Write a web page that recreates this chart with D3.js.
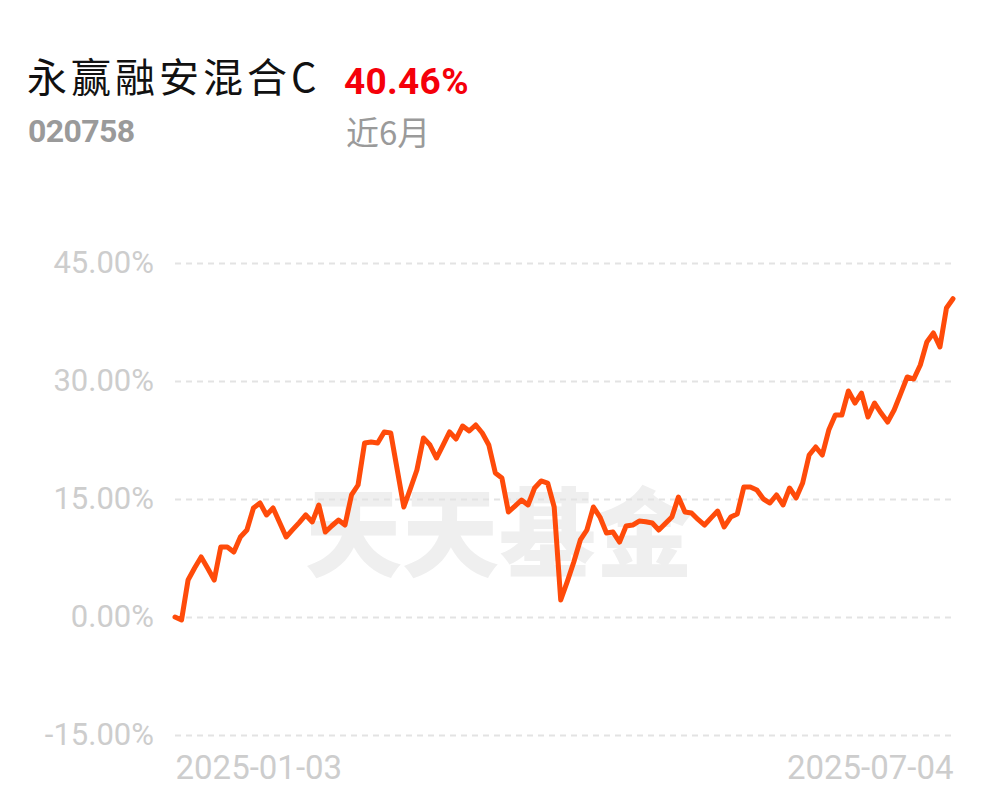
<!DOCTYPE html>
<html>
<head>
<meta charset="utf-8">
<script src="https://cdn.jsdelivr.net/npm/d3@7"></script>
<style>
  body { margin: 0; background: #fff; }
  svg { display: block; }
  .grid line { stroke: #e3e3e3; stroke-width: 2; stroke-dasharray: 6,5; }
  .axis text { font-family: Roboto, "Noto Sans", sans-serif; fill: #cdcdcd; }
</style>
</head>
<body>
<svg width="997" height="802"></svg>
<script>
// fund info
var fundName = "永赢融安混合C",
    fundCode = "020758",
    periodLabel = "近6月",
    periodReturn = "40.46%";

// x axis labels (first and last trading day)
var dateLabels = ["2025-01-03", "2025-07-04"];

// y ticks, percent
var yTicks = [-15, 0, 15, 30, 45];

// cumulative return (%) per trading day
var returns = [
  0.00, -0.38, 4.70, 6.23, 7.63, 6.20, 4.70, 8.90, 8.90, 8.26,
  10.17, 11.06, 13.86, 14.49, 12.97, 13.86, 12.00, 10.17, 11.10, 12.00,
  12.97, 12.08, 14.24, 10.80, 11.60, 12.33, 11.69, 15.51, 16.78, 22.12,
  22.25, 22.12, 23.52, 23.39, 18.69, 13.98, 16.30, 18.69, 22.75, 21.86,
  20.21, 21.86, 23.52, 22.63, 24.28, 23.64, 24.41, 23.39, 21.86, 18.30,
  17.67, 13.35, 14.10, 14.87, 14.24, 16.40, 17.29, 17.03, 13.98, 2.16,
  4.50, 7.00, 9.79, 11.06, 13.98, 12.71, 10.68, 10.80, 9.53, 11.57,
  11.69, 12.20, 12.10, 11.95, 11.06, 11.90, 12.71, 15.25, 13.35, 13.22,
  12.40, 11.69, 12.60, 13.47, 11.44, 12.71, 13.09, 16.52, 16.52, 16.14,
  15.00, 14.49, 15.51, 14.24, 16.40, 15.13, 17.03, 20.59, 21.61, 20.59,
  23.77, 25.68, 25.68, 28.73, 27.20, 28.47, 25.42, 27.20, 25.93, 24.79,
  26.31, 28.40, 30.51, 30.25, 32.03, 34.96, 36.10, 34.32, 39.28, 40.46
];

var svg = d3.select("svg"),
    margin = {top: 263, right: 44, bottom: 67, left: 175},
    width = 997 - margin.left - margin.right,
    height = 802 - margin.top - margin.bottom,
    g = svg.append("g").attr("transform", "translate(" + margin.left + "," + margin.top + ")");

// header
svg.append("text")
    .attr("x", 27).attr("y", 92)
    .style("font-family", "'Noto Sans CJK SC', sans-serif")
    .style("font-size", "40px")
    .style("letter-spacing", "4px")
    .attr("fill", "#111")
    .text(fundName);

svg.append("text")
    .attr("x", 344).attr("y", 94)
    .style("font-family", "Roboto, sans-serif")
    .style("font-weight", "bold")
    .style("font-size", "37px")
    .style("letter-spacing", "0.3px")
    .attr("fill", "#f5000a")
    .text(periodReturn);

svg.append("text")
    .attr("x", 28).attr("y", 142)
    .style("font-family", "Roboto, sans-serif")
    .style("font-weight", "bold")
    .style("font-size", "32px")
    .style("letter-spacing", "-0.6px")
    .attr("fill", "#9a9a9a")
    .text(fundCode);

svg.append("text")
    .attr("x", 346).attr("y", 145)
    .style("font-family", "'Noto Sans CJK SC', sans-serif")
    .style("font-size", "33px")
    .attr("fill", "#9a9a9a")
    .text(periodLabel);

var x = d3.scaleLinear().domain([0, returns.length - 1]).range([0, width]),
    y = d3.scaleLinear().domain([-15, 45]).range([height, 0]);

// watermark
g.append("text")
    .attr("x", 130).attr("y", 306)
    .style("font-family", "'Noto Sans CJK SC', sans-serif")
    .style("font-weight", 900)
    .style("font-size", "97px")
    .attr("fill", "#efefef")
    .text("天天基金");

// gridlines
g.append("g")
    .attr("class", "grid")
    .call(d3.axisLeft(y).tickValues(yTicks).tickSize(-width).tickFormat(""))
  .select(".domain").remove();

// y labels
g.append("g")
    .attr("class", "axis axis--y")
    .call(d3.axisLeft(y).tickValues(yTicks).tickSize(0).tickPadding(21)
      .tickFormat(function(d) { return d.toFixed(2) + "%"; }))
    .call(function(a) { a.select(".domain").remove(); })
  .selectAll("text")
    .style("font-size", "31px");

// x labels
var xa = g.append("g")
    .attr("class", "axis axis--x")
    .attr("transform", "translate(0," + height + ")")
    .call(d3.axisBottom(x).tickValues([0, returns.length - 1]).tickSize(0).tickPadding(21)
      .tickFormat(function(d, i) { return dateLabels[i]; }));
xa.select(".domain").remove();
xa.selectAll("text")
    .style("font-size", "33px")
    .attr("text-anchor", function(d, i) { return i === 0 ? "start" : "end"; });

var line = d3.line()
    .x(function(d, i) { return x(i); })
    .y(function(d) { return y(d); });

g.append("path")
    .datum(returns)
    .attr("fill", "none")
    .attr("stroke", "#ff4b0a")
    .attr("stroke-width", 5)
    .attr("stroke-linejoin", "round")
    .attr("stroke-linecap", "round")
    .attr("d", line);
</script>
</body>
</html>
